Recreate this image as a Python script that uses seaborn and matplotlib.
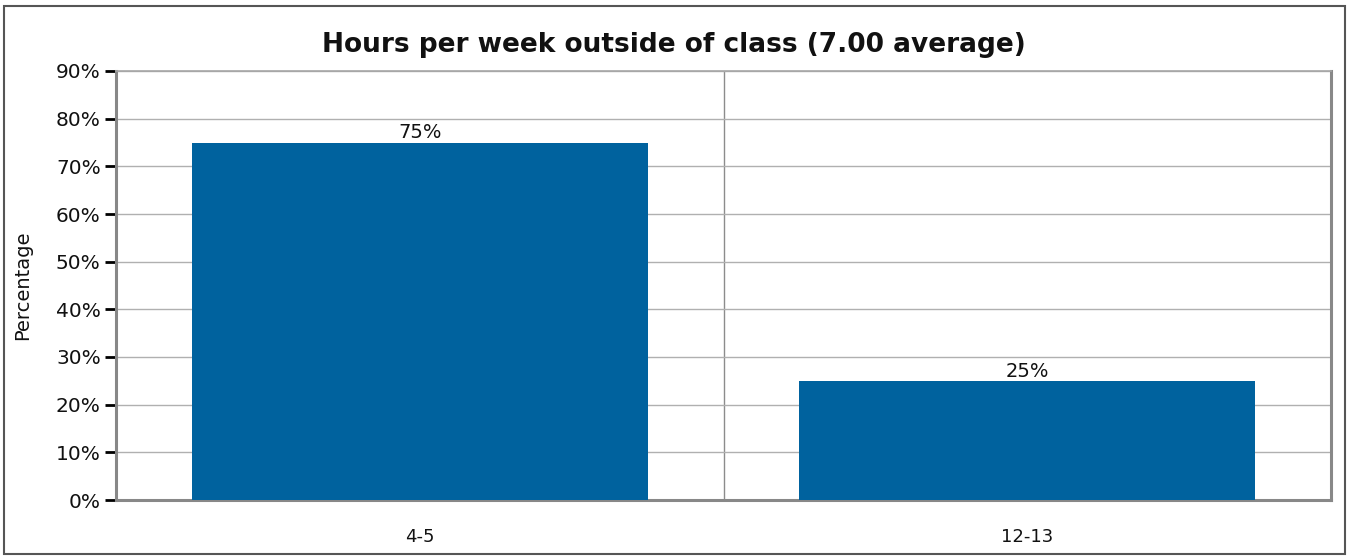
"""
Bar chart of weekly study hours outside of class.
"""
import pandas as pd
import matplotlib.pyplot as plt
import seaborn as sns
from matplotlib.ticker import FixedLocator, PercentFormatter

# Data
CATEGORIES = ["4-5", "12-13"]
PERCENTAGES = [75, 25]
Y_TICKS = list(range(0, 100, 10))

TITLE = "Hours per week outside of class (7.00 average)"
BAR_COLOR = "#00629E"
SPINE_COLOR = "#888888"
TEXT_COLOR = "#111111"


def plot_hours(df):
    """Draw the bar chart."""
    sns.set_style("white")
    plt.rcParams['font.family'] = ['DejaVu Sans']
    plt.rcParams['text.color'] = TEXT_COLOR
    plt.rcParams['axes.labelcolor'] = TEXT_COLOR
    plt.rcParams['xtick.color'] = TEXT_COLOR
    plt.rcParams['ytick.color'] = TEXT_COLOR

    fig = plt.figure(figsize=(13.48, 5.56), dpi=100)
    ax = fig.add_axes([116 / 1348, 56 / 556, (1331 - 116) / 1348, (500 - 71) / 556])

    sns.barplot(data=df, x="Hours", y="Percentage", color=BAR_COLOR,
                width=0.75, saturation=1, linewidth=0, ax=ax, zorder=3)

    ax.set_xlim(-0.5, 1.5)
    ax.set_ylim(0, 90)
    ax.set_yticks(Y_TICKS)
    ax.yaxis.set_major_formatter(PercentFormatter(decimals=0))

    # Gridlines: horizontal at each tick, vertical between categories
    ax.yaxis.grid(True, color="#b0b0b0", linewidth=1.0, zorder=0)
    ax.xaxis.set_minor_locator(FixedLocator([0.5]))
    ax.xaxis.grid(True, which="minor", color="#8c8c8c", linewidth=1.0, zorder=0)
    ax.set_axisbelow(True)

    for side in ["left", "right", "bottom"]:
        ax.spines[side].set_color(SPINE_COLOR)
        ax.spines[side].set_linewidth(2.2)
    ax.spines["top"].set_color("#a6a6a6")
    ax.spines["top"].set_linewidth(1.2)

    ax.tick_params(axis="y", which="major", direction="out", length=8, width=2,
                   color="black", labelsize=14.5, pad=3, left=True)
    ax.tick_params(axis="x", which="both", length=0, labelsize=13, pad=20)

    for container in ax.containers:
        ax.bar_label(container, labels=[f"{v}%" for v in PERCENTAGES],
                     fontsize=14, padding=0)

    ax.set_xlabel("")
    ax.set_ylabel("Percentage", fontsize=14)
    ax.yaxis.set_label_coords(-84 / 1215, 0.5)
    fig.suptitle(TITLE, fontsize=19, fontweight="bold", y=1 - 45 / 556, va="center")

    # Figure border
    border = plt.Rectangle((4 / 1348, 2 / 556), 1341 / 1348, 548 / 556,
                           transform=fig.transFigure, fill=False,
                           edgecolor="#555555", linewidth=1.5)
    fig.patches.append(border)
    return fig


def main():
    df = pd.DataFrame({"Hours": CATEGORIES, "Percentage": PERCENTAGES})
    fig = plot_hours(df)
    fig.savefig("out.png", dpi=100)


if __name__ == "__main__":
    main()
